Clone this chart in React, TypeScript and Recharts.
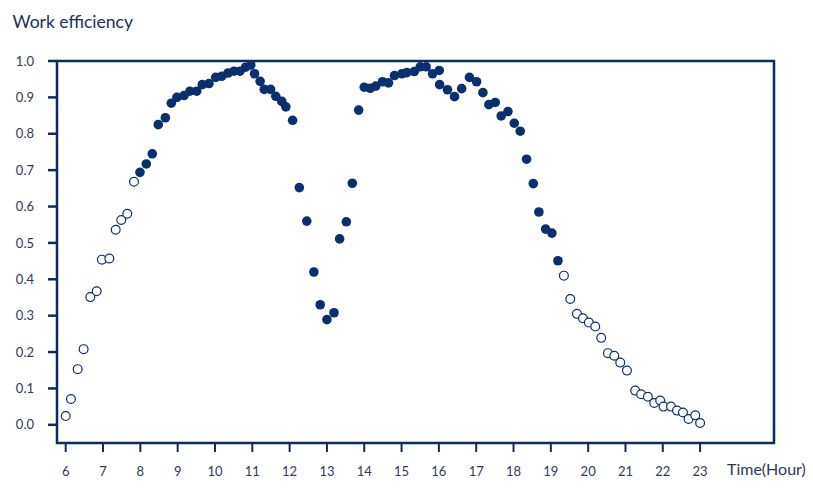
import React from 'react';
import { ScatterChart, Scatter, XAxis, YAxis, ReferenceArea } from 'recharts';

// Hours (x) and work efficiency (y)
const earlyHours = [6.0, 6.14, 6.32, 6.48, 6.66, 6.83, 6.97, 7.17, 7.34, 7.49, 7.65, 7.83];
const earlyEff = [0.024, 0.071, 0.153, 0.208, 0.351, 0.367, 0.454, 0.457, 0.536, 0.563, 0.58, 0.668];

const workHours = [
  7.99, 8.16, 8.32, 8.48, 8.67, 8.83, 8.98, 9.17, 9.33, 9.51, 9.66, 9.84, 10.02, 10.18, 10.35, 10.51, 10.67, 10.82, 10.96,
  11.06, 11.21, 11.32, 11.49, 11.63, 11.79, 11.9, 12.08, 12.26, 12.46, 12.65, 12.82, 13.0, 13.19, 13.34, 13.52, 13.68, 13.85,
  14.0, 14.16, 14.31, 14.49, 14.65, 14.81, 15.01, 15.14, 15.34, 15.5, 15.66, 15.83, 16.01, 16.02, 16.23, 16.42, 16.61, 16.82,
  17.01, 17.18, 17.34, 17.51, 17.67, 17.85, 18.02, 18.18, 18.35, 18.53, 18.68, 18.86, 19.03, 19.19,
];
const workEff = [
  0.694, 0.717, 0.745, 0.825, 0.844, 0.884, 0.9, 0.905, 0.917, 0.917, 0.935, 0.938, 0.955, 0.958, 0.967, 0.972, 0.972, 0.983, 0.989,
  0.965, 0.944, 0.922, 0.922, 0.903, 0.889, 0.874, 0.837, 0.652, 0.56, 0.42, 0.33, 0.289, 0.308, 0.511, 0.558, 0.664, 0.865,
  0.928, 0.925, 0.931, 0.943, 0.94, 0.96, 0.965, 0.968, 0.971, 0.984, 0.984, 0.965, 0.974, 0.935, 0.921, 0.902, 0.924, 0.955,
  0.943, 0.913, 0.88, 0.886, 0.849, 0.861, 0.829, 0.807, 0.73, 0.663, 0.585, 0.538, 0.527, 0.451,
];

const lateHours = [
  19.35, 19.52, 19.7, 19.86, 20.02, 20.19, 20.35, 20.53, 20.7, 20.86, 21.04, 21.26, 21.42, 21.6, 21.77, 21.93, 22.02, 22.22,
  22.38, 22.54, 22.69, 22.87, 23.0,
];
const lateEff = [
  0.41, 0.346, 0.305, 0.293, 0.281, 0.27, 0.239, 0.197, 0.19, 0.171, 0.149, 0.094, 0.084, 0.077, 0.06, 0.067, 0.05, 0.05,
  0.039, 0.034, 0.016, 0.026, 0.005,
];

const xTicks = [6, 7, 8, 9, 10, 11, 12, 13, 14, 15, 16, 17, 18, 19, 20, 21, 22, 23];
const yTicks = [0, 0.1, 0.2, 0.3, 0.4, 0.5, 0.6, 0.7, 0.8, 0.9, 1.0];

const X_MIN = 5.767;
const X_MAX = 24.98;
const Y_MIN = -0.05;
const Y_MAX = 1.0;

const NAVY = '#0c2b5e';
const DOT = '#0a2f6e';
const TEXT = '#2f3b52';

const toPoints = (xs: number[], ys: number[]) => xs.map((x, i) => ({ x, y: ys[i] }));

const earlyData = toPoints(earlyHours, earlyEff);
const workData = toPoints(workHours, workEff);
const lateData = toPoints(lateHours, lateEff);

const FilledDot = (p: any) => <circle cx={p.cx} cy={p.cy} r={4.8} fill={DOT} />;
const OpenDot = (p: any) => <circle cx={p.cx} cy={p.cy} r={4.4} fill="#fff" stroke={DOT} strokeWidth={1.2} />;

const tickStyle = { fontSize: 13, fill: TEXT, fontFamily: 'Lato, sans-serif' };

export default function App() {
  return (
    <div style={{ position: 'absolute', left: 0, top: 0, width: 813, height: 490, background: '#fff' }}>
      <ScatterChart width={813} height={490} margin={{ top: 61, right: 39, bottom: 17, left: 0 }}>
        <XAxis
          type="number"
          dataKey="x"
          domain={[X_MIN, X_MAX]}
          ticks={xTicks}
          allowDataOverflow
          axisLine={false}
          tickLine={{ stroke: NAVY, strokeWidth: 2 }}
          tickSize={9}
          tickMargin={15}
          height={30}
          tick={tickStyle}
          interval={0}
        />
        <YAxis
          type="number"
          dataKey="y"
          domain={[Y_MIN, Y_MAX]}
          ticks={yTicks}
          allowDataOverflow
          axisLine={false}
          tickLine={{ stroke: NAVY, strokeWidth: 2.5 }}
          tickSize={9}
          tickMargin={14}
          width={57}
          tick={tickStyle}
          interval={0}
          tickFormatter={(v: number) => v.toFixed(1)}
        />
        <ReferenceArea x1={X_MIN} x2={X_MAX} y1={Y_MIN} y2={Y_MAX} fill="none" stroke={NAVY} strokeWidth={2.5} ifOverflow="visible" />
        <Scatter data={earlyData} shape={OpenDot} isAnimationActive={false} />
        <Scatter data={workData} shape={FilledDot} isAnimationActive={false} />
        <Scatter data={lateData} shape={OpenDot} isAnimationActive={false} />
      </ScatterChart>
      <svg width={813} height={490} style={{ position: 'absolute', left: 0, top: 0, pointerEvents: 'none' }}>
        <text x={12.5} y={27.7} fontSize={17.5} fill="#1d3057" fontFamily="Lato, sans-serif">
          Work efficiency
        </text>
        <text x={727} y={475} fontSize={16} fill={TEXT} fontFamily="Lato, sans-serif">
          Time(Hour)
        </text>
      </svg>
    </div>
  );
}
